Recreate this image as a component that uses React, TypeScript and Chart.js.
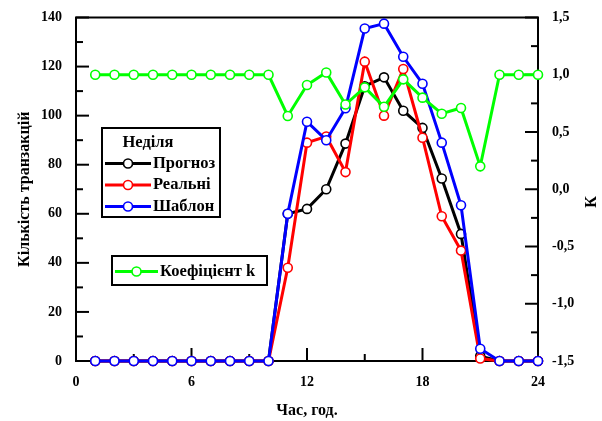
import React, { useEffect, useRef } from 'react';
import { Chart, registerables } from 'chart.js';

Chart.register(...registerables);

const hours = [1, 2, 3, 4, 5, 6, 7, 8, 9, 10, 11, 12, 13, 14, 15, 16, 17, 18, 19, 20, 21, 22, 23, 24];
const forecast = [0, 0, 0, 0, 0, 0, 0, 0, 0, 0, 60, 62, 70, 88.6, 112, 115.6, 102, 95, 74.4, 51.8, 2, 0, 0, 0];
const actual = [0, 0, 0, 0, 0, 0, 0, 0, 0, 0, 38, 89, 91.5, 77, 122, 100, 119, 91, 59, 45, 1, 0, 0, 0];
const template = [0, 0, 0, 0, 0, 0, 0, 0, 0, 0, 60, 97.5, 90, 103, 135.5, 137.5, 124, 113, 89, 63.5, 5, 0, 0, 0];
const kCoef = [1, 1, 1, 1, 1, 1, 1, 1, 1, 1, 0.64, 0.91, 1.02, 0.74, 0.89, 0.72, 0.96, 0.8, 0.66, 0.71, 0.2, 1, 1, 1];

const xTicks = [0, 6, 12, 18, 24];
const xMinor = [3, 9, 15, 21];
const leftTicks = [0, 20, 40, 60, 80, 100, 120, 140];
const leftMinor = [10, 30, 50, 70, 90, 110, 130];
const rightTicks = [-1.5, -1, -0.5, 0, 0.5, 1, 1.5];
const rightMinor = [-1.25, -0.75, -0.25, 0.25, 0.75, 1.25];

const xTitle = 'Час, год.';
const leftTitle = 'Кількість транзакцій';
const rightTitle = 'К';
const legendTitle = 'Неділя';
const nameForecast = 'Прогноз';
const nameActual = 'Реальні';
const nameTemplate = 'Шаблон';
const nameK = 'Коефіцієнт k';

const BLACK = '#000000';
const RED = '#ff0000';
const BLUE = '#0000ff';
const GREEN = '#00ff00';

const FONT = '"Liberation Serif", "Times New Roman", serif';

export default function App() {
  const ref = useRef<HTMLCanvasElement>(null);

  useEffect(() => {
    const canvas = ref.current!;
    const mk = (label: string, data: number[], color: string, axis: string) => ({
      label,
      data: hours.map((h, i) => ({ x: h, y: data[i] })),
      borderColor: color,
      backgroundColor: color,
      borderWidth: 3,
      pointRadius: 4.5,
      pointBackgroundColor: '#ffffff',
      pointBorderColor: color,
      pointBorderWidth: 1.6,
      tension: 0,
      clip: false as any,
      yAxisID: axis,
    });

    const drawEntry = (ctx: CanvasRenderingContext2D, x0: number, x1: number, y: number, color: string, text: string, tx: number) => {
      ctx.strokeStyle = color;
      ctx.lineWidth = 3;
      ctx.beginPath();
      ctx.moveTo(x0, y);
      ctx.lineTo(x1, y);
      ctx.stroke();
      ctx.beginPath();
      ctx.arc((x0 + x1) / 2, y, 4.5, 0, Math.PI * 2);
      ctx.fillStyle = '#ffffff';
      ctx.fill();
      ctx.lineWidth = 1.6;
      ctx.stroke();
      ctx.fillStyle = '#000000';
      ctx.textAlign = 'left';
      ctx.textBaseline = 'middle';
      ctx.fillText(text, tx, y);
    };

    const decor = {
      id: 'decor',
      beforeDatasetsDraw(chart: any) {
        const { ctx, chartArea: a, scales } = chart;
        ctx.save();
        ctx.strokeStyle = '#000';
        ctx.lineWidth = 2;
        ctx.strokeRect(a.left, a.top, a.right - a.left, a.bottom - a.top);
        const MAJ = 13;
        const MIN = 7;
        const seg = (x0: number, y0: number, x1: number, y1: number) => {
          ctx.beginPath();
          ctx.moveTo(x0, y0);
          ctx.lineTo(x1, y1);
          ctx.stroke();
        };
        leftTicks.forEach((v) => { const y = scales.y.getPixelForValue(v); seg(a.left, y, a.left + MAJ, y); });
        leftMinor.forEach((v) => { const y = scales.y.getPixelForValue(v); seg(a.left, y, a.left + MIN, y); });
        rightTicks.forEach((v) => { const y = scales.y1.getPixelForValue(v); seg(a.right, y, a.right - MAJ, y); });
        rightMinor.forEach((v) => { const y = scales.y1.getPixelForValue(v); seg(a.right, y, a.right - MIN, y); });
        xTicks.forEach((v) => { const x = scales.x.getPixelForValue(v); seg(x, a.bottom, x, a.bottom - MAJ); });
        xMinor.forEach((v) => { const x = scales.x.getPixelForValue(v); seg(x, a.bottom, x, a.bottom - MIN); });
        ctx.restore();
      },
      afterDraw(chart: any) {
        const { ctx } = chart;
        ctx.save();
        // right axis title
        ctx.font = `bold 16px ${FONT}`;
        ctx.fillStyle = '#000';
        ctx.translate(592, 202);
        ctx.rotate(-Math.PI / 2);
        ctx.textAlign = 'center';
        ctx.textBaseline = 'middle';
        ctx.fillText(rightTitle, 0, 0);
        ctx.restore();

        ctx.save();
        // legend box 1
        ctx.fillStyle = '#ffffff';
        ctx.fillRect(102, 128, 118, 89);
        ctx.strokeStyle = '#000';
        ctx.lineWidth = 2;
        ctx.strokeRect(102, 128, 118, 89);
        ctx.font = `bold 16.5px ${FONT}`;
        ctx.fillStyle = '#000';
        ctx.textAlign = 'center';
        ctx.textBaseline = 'middle';
        ctx.fillText(legendTitle, 148, 143);
        drawEntry(ctx, 105, 151, 163.5, BLACK, nameForecast, 153);
        drawEntry(ctx, 105, 151, 185, RED, nameActual, 153);
        drawEntry(ctx, 105, 151, 206.5, BLUE, nameTemplate, 153);

        // legend box 2
        ctx.fillStyle = '#ffffff';
        ctx.fillRect(112, 256, 155, 29);
        ctx.strokeStyle = '#000';
        ctx.lineWidth = 2;
        ctx.strokeRect(112, 256, 155, 29);
        drawEntry(ctx, 115, 158, 271.5, GREEN, nameK, 160);
        ctx.restore();
      },
    };

    const tickFont = { family: FONT, size: 14, weight: 'bold' as const };
    const titleFont = { family: FONT, size: 16, weight: 'bold' as const };

    const chart = new Chart(canvas, {
      type: 'line',
      data: {
        datasets: [
          mk(nameK, kCoef, GREEN, 'y1'),
          mk(nameTemplate, template, BLUE, 'y'),
          mk(nameActual, actual, RED, 'y'),
          mk(nameForecast, forecast, BLACK, 'y'),
        ] as any,
      },
      options: {
        responsive: false,
        animation: false,
        devicePixelRatio: 1,
        layout: { padding: { top: 17.5, left: 0, right: 0, bottom: 0 } },
        plugins: { legend: { display: false }, tooltip: { enabled: false } },
        scales: {
          x: {
            type: 'linear',
            position: 'bottom',
            min: 0,
            max: 24,
            afterFit: (s: any) => { s.height = 60; },
            afterBuildTicks: (s: any) => { s.ticks = xTicks.map((v) => ({ value: v })); },
            grid: { display: false },
            border: { display: false },
            ticks: { color: '#000', font: tickFont, padding: 5, maxRotation: 0, autoSkip: false },
            title: { display: true, text: xTitle, color: '#000', font: titleFont, padding: { top: 0, bottom: 1 } },
          },
          y: {
            type: 'linear',
            position: 'left',
            min: 0,
            max: 140,
            afterFit: (s: any) => { s.width = 76; },
            afterBuildTicks: (s: any) => { s.ticks = leftTicks.map((v) => ({ value: v })); },
            grid: { display: false },
            border: { display: false },
            ticks: { color: '#000', font: tickFont, padding: 6 },
            title: { display: true, text: leftTitle, color: '#000', font: titleFont, padding: { top: 15, bottom: 0 } },
          },
          y1: {
            type: 'linear',
            position: 'right',
            min: -1.5,
            max: 1.5,
            afterFit: (s: any) => { s.width = 64; },
            afterBuildTicks: (s: any) => { s.ticks = rightTicks.map((v) => ({ value: v })); },
            grid: { display: false },
            border: { display: false },
            ticks: {
              color: '#000',
              font: tickFont,
              padding: 6,
              callback: (v: any) => Number(v).toFixed(1).replace('.', ','),
            },
          },
        },
      } as any,
      plugins: [decor],
    });

    return () => chart.destroy();
  }, []);

  return (
    <div style={{ position: 'fixed', left: 0, top: 0, width: 602, height: 421, background: '#ffffff' }}>
      <canvas ref={ref} width={602} height={421} style={{ display: 'block', width: 602, height: 421 }} />
    </div>
  );
}
